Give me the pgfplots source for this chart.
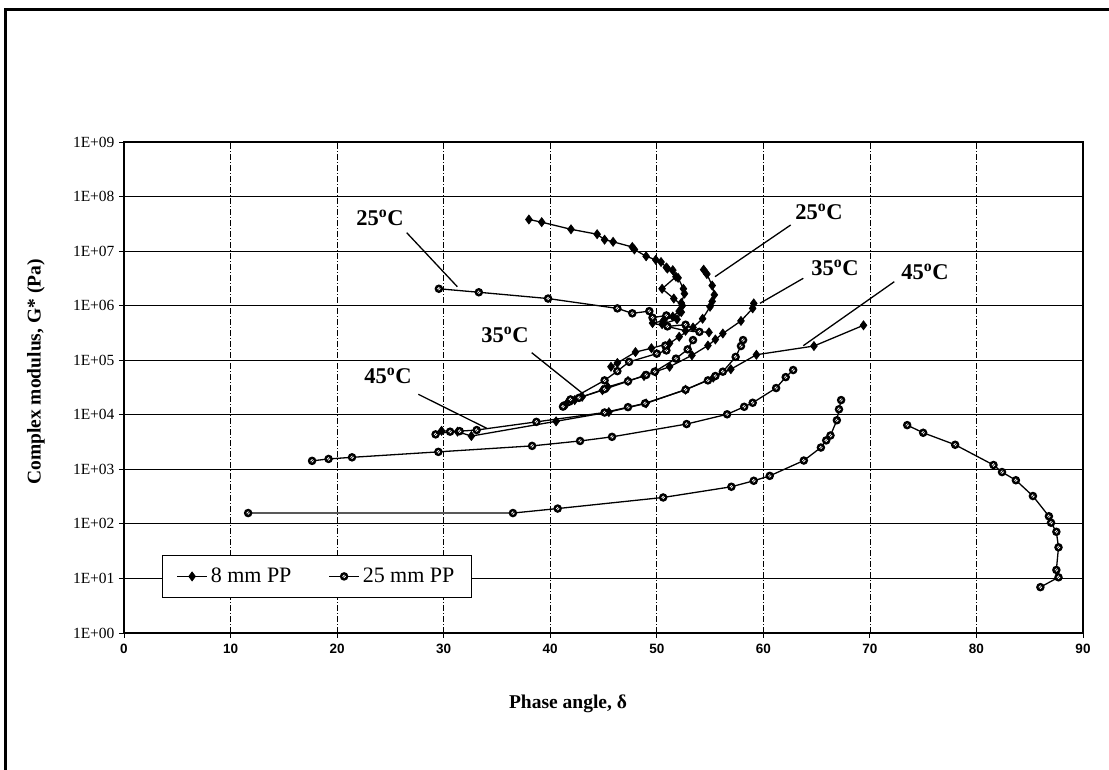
\documentclass[border=0pt]{standalone}
\usepackage{pgfplots}
\pgfplotsset{compat=1.18}
\usepackage{fontspec}
\setmainfont{Liberation Serif}
\newfontfamily\sansf{Liberation Sans}

\pgfdeclareplotmark{ring}{%
  \pgfpathcircle{\pgfpointorigin}{\pgfplotmarksize}%
  \pgfsetfillcolor{black}\pgfusepathqfill
  \pgfpathcircle{\pgfpointorigin}{0.42\pgfplotmarksize}%
  \pgfsetfillcolor{white}\pgfusepathqfill
  \pgfsetlinewidth{0.5pt}\pgfsetstrokecolor{black}%
  \pgfpathmoveto{\pgfqpoint{-0.3\pgfplotmarksize}{-0.3\pgfplotmarksize}}%
  \pgfpathlineto{\pgfqpoint{0.3\pgfplotmarksize}{0.3\pgfplotmarksize}}%
  \pgfusepathqstroke
}

\pgfplotsset{
  eight/.style={black, line width=1.3pt, mark=diamond*, mark size=4.5pt,
    mark options={solid, fill=black, line width=0.7pt}},
  tfive/.style={black, line width=1.3pt, mark=ring, mark size=4.3pt,
    mark options={solid}},
}

\begin{document}
\begin{tikzpicture}[x=1pt,y=1pt]
\useasboundingbox (0,0) rectangle (1109,770);
\draw[line width=3pt] (5,0) -- (5,760) -- (1109,760);

\begin{axis}[
  at={(124pt,137pt)}, anchor=south west,
  scale only axis, width=959pt, height=491pt,
  xmin=0, xmax=90, ymode=log, log basis y=10, ymin=1, ymax=1e9,
  xtick={0,10,20,30,40,50,60,70,80,90},
  xticklabels={0,10,20,30,40,50,60,70,80,90},
  ytick={1,10,100,1000,1e4,1e5,1e6,1e7,1e8,1e9},
  yticklabels={1E+00,1E+01,1E+02,1E+03,1E+04,1E+05,1E+06,1E+07,1E+08,1E+09},
  grid=major,
  x grid style={black, line width=0.6pt, dash pattern=on 6pt off 2pt on 1pt off 2pt},
  y grid style={black, line width=0.9pt},
  axis line style={line width=2pt},
  tick align=outside, xtick pos=bottom, ytick pos=left,
  major tick length=5pt, minor tick length=2.5pt,
  every tick/.style={black, line width=0.8pt},
  xticklabel style={font=\sansf\bfseries\fontsize{13.5}{13.5}\selectfont, yshift=-3pt},
  yticklabel style={font=\fontsize{15.5}{15.5}\selectfont, xshift=-1pt},
  legend style={at={(0.0396,0.0713)}, anchor=south west, draw=black, line width=1pt,
    font=\fontsize{22}{22}\selectfont, legend columns=2,
    inner xsep=14pt, inner ysep=11pt,
    nodes={inner xsep=3pt, inner ysep=2pt},
    /tikz/every even column/.append style={column sep=34pt}},
  legend cell align=left,
  legend image code/.code={\draw[mark repeat=2,mark phase=2,#1] plot coordinates {(0pt,0pt)(15pt,0pt)(30pt,0pt)};},
  clip=false,
]
% 8 mm PP, top curve
\addplot[eight] coordinates {
(38.0,3.80e7) (39.2,3.39e7) (41.95,2.51e7) (44.4,2.04e7) (45.1,1.62e7) (45.9,1.48e7)
(47.7,1.19e7) (47.9,1.07e7) (49.0,8.04e6) (49.9,6.92e6) (50.4,6.31e6) (50.9,5.01e6)
(51.5,4.47e6) (52.0,3.24e6) (52.5,2.04e6) (52.6,1.66e6) (52.3,1.12e6) (52.1,7.94e5)
(51.5,6.31e5) (50.6,5.25e5) (49.6,4.79e5) (52.7,3.47e5) (54.9,3.24e5)};
\addlegendentry{8 mm PP}
% 25 mm PP, 25C
\addplot[tfive] coordinates {
(29.55,2.04e6) (33.3,1.76e6) (39.8,1.35e6) (46.3,8.91e5) (47.7,7.24e5) (49.3,7.94e5)
(49.6,6.03e5) (50.9,6.61e5) (51.0,4.17e5) (52.7,4.47e5) (54.0,3.31e5)};
\addlegendentry{25 mm PP}
% 8 mm PP, loop repeat
\addplot[eight, forget plot] coordinates {
(51.0,4.79e6) (51.8,3.39e6) (50.5,2.04e6) (51.6,1.35e6) (52.4,1.00e6) (52.3,7.59e5)
(51.9,5.62e5) (50.5,4.57e5)};
% 8 mm PP, 25C (right label)
\addplot[eight, forget plot] coordinates {
(54.4,4.57e6) (54.7,3.80e6) (55.2,2.34e6) (55.4,1.58e6) (55.2,1.20e6) (55.0,9.55e5)
(54.3,5.75e5) (53.4,3.98e5) (52.1,2.69e5) (51.2,2.04e5) (49.5,1.66e5) (48.0,1.41e5)
(46.3,8.91e4) (45.7,7.59e4)};
% 8 mm PP, 35C
\addplot[eight, forget plot] coordinates {
(59.1,1.10e6) (59.0,8.91e5) (57.9,5.25e5) (56.2,3.09e5) (55.5,2.40e5) (54.8,1.86e5)
(53.3,1.23e5) (51.2,7.59e4) (49.9,6.17e4) (48.8,5.13e4) (47.3,4.17e4) (45.4,3.24e4)
(44.9,2.82e4) (43.0,2.14e4) (42.3,1.86e4) (41.6,1.66e4)};
% 8 mm PP, 45C
\addplot[eight, forget plot] coordinates {
(69.4,4.37e5) (64.75,1.82e5) (59.35,1.26e5) (56.95,6.84e4) (55.3,4.79e4) (52.7,2.88e4)
(49.0,1.62e4) (45.5,1.12e4) (40.55,7.59e3) (32.6,4.07e3) (31.3,4.90e3) (29.8,5.07e3)};
% 25 mm PP, 35C
\addplot[tfive, forget plot] coordinates {
(41.3,1.48e4) (41.8,1.74e4) (42.7,2.04e4) (45.1,2.95e4) (47.3,4.12e4) (49.0,5.37e4)
(49.8,6.17e4) (51.8,1.07e5) (52.9,1.58e5) (53.4,2.34e5)};
\addplot[tfive, forget plot] coordinates {
(41.2,1.41e4) (41.9,1.91e4) (45.1,4.27e4) (46.3,6.31e4) (47.4,9.33e4) (50.0,1.32e5)
(50.9,1.51e5) (50.8,1.86e5)};
% 25 mm PP, 45C
\addplot[tfive, forget plot] coordinates {
(29.24,4.37e3) (30.6,4.90e3) (31.5,5.01e3) (33.1,5.25e3) (38.7,7.41e3) (45.1,1.10e4)
(47.3,1.38e4) (48.9,1.62e4) (52.7,2.88e4) (54.8,4.27e4) (55.5,5.13e4) (56.2,6.17e4)
(57.4,1.15e5) (57.9,1.82e5) (58.1,2.34e5)};
% 25 mm PP, lower
\addplot[tfive, forget plot] coordinates {
(17.65,1.43e3) (19.2,1.55e3) (21.4,1.66e3) (29.5,2.09e3) (38.3,2.69e3) (42.8,3.31e3)
(45.8,3.94e3) (52.8,6.76e3) (56.6,1.02e4) (58.2,1.40e4) (59.0,1.66e4) (61.2,3.09e4)
(62.1,4.90e4) (62.8,6.61e4)};
\addplot[tfive, forget plot] coordinates {
(11.65,158) (36.5,158) (40.7,191) (50.6,305) (57.0,479) (59.1,617) (60.6,759)
(63.8,1.45e3) (65.4,2.51e3) (65.9,3.39e3) (66.3,4.17e3) (66.9,7.94e3) (67.1,1.26e4)
(67.3,1.86e4)};
\addplot[tfive, forget plot] coordinates {
(73.5,6.46e3) (75.0,4.68e3) (78.0,2.82e3) (81.6,1.20e3) (82.4,891) (83.7,631)
(85.3,324) (86.8,138) (87.0,105) (87.5,71.6) (87.7,37.2) (87.5,14.3) (87.7,10.5)
(86.0,6.92)};
\end{axis}

% leader lines
\begin{scope}[line width=1.3pt]
\draw (406.7,537.3) -- (457.3,483.3);
\draw (531.7,417.3) -- (581.7,377.3);
\draw (418.3,375.7) -- (486.7,341.7);
\draw (790.7,545) -- (715,493.3);
\draw (803.3,491.7) -- (760,466.7);
\draw (894.3,488.3) -- (803.3,424.3);
\end{scope}
\begin{scope}[every node/.style={font=\bfseries\fontsize{22.5}{22.5}\selectfont, inner sep=0pt}]
\node at (380,552) {25\textsuperscript{o}C};
\node at (505,435) {35\textsuperscript{o}C};
\node at (388,394) {45\textsuperscript{o}C};
\node at (819,558) {25\textsuperscript{o}C};
\node at (835,502) {35\textsuperscript{o}C};
\node at (925,498) {45\textsuperscript{o}C};
\end{scope}

\node[rotate=90, font=\bfseries\fontsize{19.5}{19.5}\selectfont] at (36,398) {Complex modulus, G* (Pa)};
\node[font=\bfseries\fontsize{19.5}{19.5}\selectfont] at (568,66) {Phase angle, δ};
\end{tikzpicture}
\end{document}
